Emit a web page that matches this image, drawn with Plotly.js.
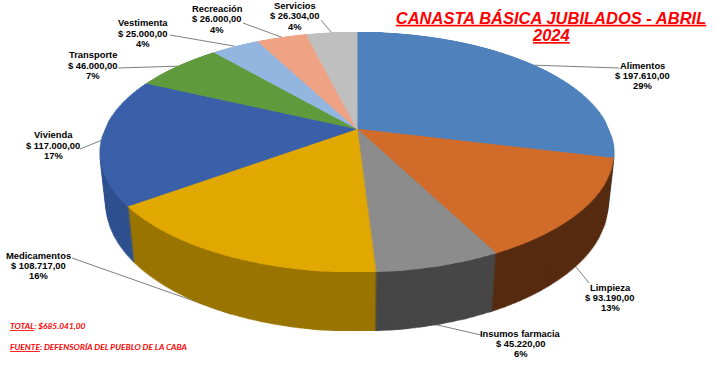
<!DOCTYPE html>
<html>
<head>
<meta charset="utf-8">
<script src="https://cdn.plot.ly/plotly-3.0.1.min.js"></script>
<style>
  html, body { margin:0; padding:0; background:#fff; }
  #wrap { position:relative; width:716px; height:365px; overflow:hidden; background:#fff; }
  #base { position:absolute; left:0; top:0; width:716px; height:365px; }
  #scene { position:absolute; left:0; top:0; width:716px; height:365px; pointer-events:none; }
  #disk { position:absolute; transform-style:preserve-3d; }
  .layer { position:absolute; left:0; top:0; }
</style>
</head>
<body>
<div id="wrap">
  <div id="base"></div>
  <div id="scene"><div id="disk"></div></div>
</div>
<script>
// ---------------- DATA ----------------
const categories = ['Alimentos', 'Limpieza', 'Insumos farmacia', 'Medicamentos', 'Vivienda',
                    'Transporte', 'Vestimenta', 'Recreación', 'Servicios'];
const values = [197610, 93190, 45220, 108717, 117000, 46000, 25000, 26000, 26304];
const valueLabels = ['$ 197.610,00', '$ 93.190,00', '$ 45.220,00', '$ 108.717,00', '$ 117.000,00',
                     '$ 46.000,00', '$ 25.000,00', '$ 26.000,00', '$ 26.304,00'];
const pctLabels = ['29%', '13%', '6%', '16%', '17%', '7%', '4%', '4%', '4%'];
const titleLine1 = 'CANASTA BÁSICA JUBILADOS - ABRIL';
const titleLine2 = '2024';
const totalLabel = '$685.041,00';
const sourceLabel = 'DEFENSORÍA DEL PUEBLO DE LA CABA';

// ---------------- STYLE / GEOMETRY ----------------
const topColors  = ['#4F81BD', '#D16B29', '#8C8C8C', '#E0A800', '#3A60A9', '#5F9A3C', '#93B6E0', '#EFA384', '#BFBFBF'];
const sideColors = ['#2D5782', '#552A0F', '#464646', '#9A7400', '#2E4F8E', '#3D6B27', '#6A8BB8', '#C07A5E', '#8F8F8F'];
const W = 716, H = 365;
const R = 252, TILT = 62.66, PERSP = 1166, DEPTH = 59, CX = 357, CY = 129, NLAY = 30;
// label centres (px), leader tail (px), and which rim edge the leader points to (0 top, 1 bottom)
const labelPos = [[642.5, 65], [610, 287], [520.5, 333], [38.5, 255], [53, 135],
                  [92.5, 55], [143, 23], [217, 8.5], [295, 5.5]];
const tailPos  = [[619, 68], [589, 283], [481, 335], [72, 258], [80, 149],
                  [118, 68], [170, 35], [243, 23], [321, 20]];
const rimEdge  = [0, 1, 1, 1, 0, 0, 0, 0, 0];
const LINE_GAP = 10.3;

// ---------------- 3D PIE (stacked Plotly pies under CSS perspective) ----------------
const scene = document.getElementById('scene');
scene.style.perspective = PERSP + 'px';
scene.style.perspectiveOrigin = CX + 'px ' + CY + 'px';
const disk = document.getElementById('disk');
disk.style.left = (CX - R) + 'px';
disk.style.top = (CY - R) + 'px';
disk.style.width = (2 * R) + 'px';
disk.style.height = (2 * R) + 'px';
disk.style.transform = 'rotateX(' + TILT + 'deg)';

for (let k = NLAY; k >= 0; k--) {
  const d = DEPTH * k / NLAY;
  const el = document.createElement('div');
  el.className = 'layer';
  el.style.width = (2 * R) + 'px';
  el.style.height = (2 * R) + 'px';
  el.style.transform = 'translateZ(' + (-d) + 'px)';
  disk.appendChild(el);
  const cols = k === 0 ? topColors : sideColors;
  Plotly.newPlot(el, [{
    type: 'pie', values: values, labels: categories, sort: false,
    direction: 'clockwise', rotation: 0, textinfo: 'none', hoverinfo: 'skip',
    marker: { colors: cols, line: { color: cols, width: 1 } }
  }], {
    width: 2 * R, height: 2 * R, margin: { l: 0, r: 0, t: 0, b: 0, pad: 0 },
    paper_bgcolor: 'rgba(0,0,0,0)', plot_bgcolor: 'rgba(0,0,0,0)', showlegend: false
  }, { staticPlot: true, displayModeBar: false });
}

// projection of a rim point (angle clockwise from 12 o'clock, depth below top face)
function proj(phiDeg, depth) {
  const phi = phiDeg * Math.PI / 180, a = TILT * Math.PI / 180;
  const lx = R * Math.sin(phi), ly = -R * Math.cos(phi), lz = -depth;
  const yr = ly * Math.cos(a) - lz * Math.sin(a);
  const zr = ly * Math.sin(a) + lz * Math.cos(a);
  const f = PERSP / (PERSP - zr);
  return [CX + lx * f, CY + yr * f];
}

// ---------------- BASE LAYER: title, labels, leader lines ----------------
const px = x => x / W, py = y => 1 - y / H;
const total = values.reduce((s, v) => s + v, 0);
const annotations = [], shapes = [];
let cum = 0;
values.forEach((v, i) => {
  const mid = (cum + v / 2) / total * 360;
  cum += v;
  const tip = proj(mid, rimEdge[i] * DEPTH);
  shapes.push({ type: 'line', xref: 'paper', yref: 'paper',
    x0: px(tailPos[i][0]), y0: py(tailPos[i][1]), x1: px(tip[0]), y1: py(tip[1]),
    line: { color: '#7F7F7F', width: 1 } });
  [categories[i], valueLabels[i], pctLabels[i]].forEach((t, j) => {
    annotations.push({ xref: 'paper', yref: 'paper', x: px(labelPos[i][0]), y: py(labelPos[i][1] + j * LINE_GAP),
      xanchor: 'center', yanchor: 'middle', showarrow: false, text: '<b>' + t + '</b>',
      font: { family: 'Liberation Sans, Arial, sans-serif', size: 9.4, color: '#000' } });
  });
});

const ul = t => '<span style="text-decoration:underline">' + t + '</span>';
annotations.push({ xref: 'paper', yref: 'paper', x: px(551), y: py(35.5), xanchor: 'center', yanchor: 'middle',
  showarrow: false, text: '<b><i>' + ul(titleLine2) + '</i></b>',
  font: { family: 'Liberation Sans, Arial, sans-serif', size: 16.5, color: '#FF0000' } });
annotations.push({ xref: 'paper', yref: 'paper', x: px(8), y: py(326), xanchor: 'left', yanchor: 'middle',
  showarrow: false, text: '<b><i>' + ul('TOTAL') + ': ' + totalLabel + '</i></b>',
  font: { family: 'Lato, sans-serif', size: 8.4, color: '#FF0000' } });
annotations.push({ xref: 'paper', yref: 'paper', x: px(8), y: py(347), xanchor: 'left', yanchor: 'middle',
  showarrow: false, text: '<b><i>' + ul('FUENTE') + ': ' + sourceLabel + '</i></b>',
  font: { family: 'Lato, sans-serif', size: 8.4, color: '#FF0000' } });

Plotly.newPlot('base', [], {
  width: W, height: H, margin: { l: 0, r: 0, t: 0, b: 0, pad: 0 },
  paper_bgcolor: '#FFFFFF', plot_bgcolor: '#FFFFFF', showlegend: false,
  xaxis: { visible: false }, yaxis: { visible: false },
  title: { text: '<b><i>' + ul(titleLine1) + '</i></b>', xref: 'paper', yref: 'container',
    x: px(551), xanchor: 'center', y: py(18), yanchor: 'middle',
    font: { family: 'Liberation Sans, Arial, sans-serif', size: 16.5, color: '#FF0000' } },
  annotations: annotations, shapes: shapes
}, { staticPlot: true, displayModeBar: false });
</script>
</body>
</html>
